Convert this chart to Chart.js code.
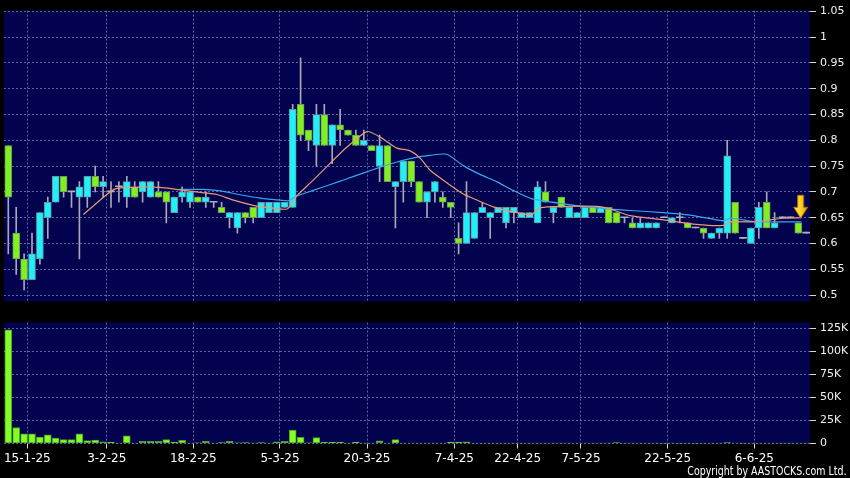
<!DOCTYPE html>
<html><head><meta charset="utf-8">
<script src="https://cdn.jsdelivr.net/npm/chart.js@4.4.1/dist/chart.umd.min.js"></script>
<style>
html,body{margin:0;padding:0;background:#000;width:850px;height:478px;overflow:hidden;}
#wrapP{position:absolute;left:0;top:0;width:850px;height:312px;}
#wrapV{position:absolute;left:0;top:312px;width:850px;height:166px;}
#copy{position:absolute;right:4px;top:463px;color:#fff;font:12.5px "Liberation Sans Narrow","DejaVu Sans Condensed",sans-serif;white-space:nowrap;transform:scaleX(0.84);transform-origin:100% 50%;}
</style></head><body>
<div id="wrapP"><canvas id="price"></canvas></div>
<div id="wrapV"><canvas id="vol"></canvas></div>
<div id="copy">Copyright by AASTOCKS.com Ltd.</div>
<script>
// ---- data ----
const openP = [0.79,0.62,0.57,0.53,0.57,0.65,0.68,0.73,0.70,0.69,
 0.69,0.73,0.71,0.70,0.71,0.69,0.71,0.70,0.69,0.70,
 0.70,0.66,0.69,0.68,0.69,0.68,0.68,0.67,0.65,0.63,
 0.66,0.67,0.65,0.66,0.66,0.67,0.67,0.87,0.82,0.79,
 0.85,0.79,0.83,0.82,0.81,0.79,0.79,0.75,0.79,0.71,
 0.72,0.76,0.72,0.68,0.70,0.69,0.68,0.61,0.60,0.61,
 0.66,0.65,0.66,0.64,0.66,0.65,0.65,0.64,0.70,0.66,
 0.69,0.65,0.65,0.65,0.67,0.66,0.67,0.66,0.65,0.64,
 0.63,0.63,0.63,0.65,0.64,0.65,0.64,0.63,0.63,0.61,
 0.62,0.62,0.68,0.61,0.60,0.63,0.68,0.63,0.65,0.65,
 0.64,0.62];
const highP = [0.79,0.67,0.58,0.62,0.66,0.69,0.73,0.73,0.70,0.72,
 0.73,0.75,0.73,0.72,0.72,0.73,0.72,0.72,0.72,0.72,
 0.70,0.69,0.71,0.70,0.69,0.70,0.68,0.68,0.66,0.66,
 0.66,0.67,0.68,0.68,0.68,0.68,0.87,0.96,0.82,0.87,
 0.87,0.83,0.86,0.82,0.82,0.82,0.79,0.81,0.79,0.72,
 0.76,0.76,0.72,0.70,0.72,0.70,0.68,0.64,0.72,0.66,
 0.68,0.66,0.67,0.67,0.67,0.66,0.66,0.72,0.72,0.67,
 0.69,0.67,0.66,0.67,0.67,0.67,0.67,0.66,0.65,0.65,
 0.65,0.64,0.64,0.65,0.65,0.66,0.64,0.63,0.63,0.62,
 0.63,0.80,0.68,0.61,0.63,0.68,0.70,0.66,0.65,0.65,
 0.64,0.62];
const lowP = [0.58,0.54,0.51,0.53,0.56,0.61,0.68,0.69,0.67,0.57,
 0.67,0.70,0.69,0.67,0.68,0.67,0.69,0.68,0.69,0.69,
 0.64,0.66,0.68,0.67,0.68,0.67,0.67,0.66,0.63,0.62,
 0.64,0.64,0.65,0.66,0.66,0.67,0.67,0.80,0.78,0.75,
 0.79,0.755,0.79,0.81,0.79,0.79,0.78,0.72,0.72,0.63,
 0.68,0.71,0.68,0.65,0.68,0.67,0.65,0.58,0.60,0.61,
 0.66,0.61,0.66,0.63,0.64,0.65,0.65,0.64,0.68,0.64,
 0.67,0.65,0.65,0.65,0.66,0.66,0.64,0.64,0.64,0.63,
 0.63,0.63,0.63,0.65,0.64,0.64,0.63,0.63,0.61,0.61,
 0.61,0.61,0.62,0.61,0.60,0.61,0.63,0.63,0.65,0.65,
 0.62,0.62];
const closeP = [0.69,0.57,0.53,0.58,0.66,0.68,0.73,0.70,0.70,0.71,
 0.73,0.71,0.72,0.70,0.71,0.72,0.69,0.72,0.72,0.69,
 0.68,0.69,0.70,0.70,0.68,0.69,0.68,0.66,0.66,0.66,
 0.65,0.65,0.68,0.68,0.68,0.68,0.86,0.81,0.80,0.85,
 0.79,0.83,0.82,0.81,0.79,0.80,0.78,0.79,0.72,0.72,
 0.76,0.72,0.68,0.70,0.72,0.68,0.67,0.60,0.66,0.66,
 0.67,0.66,0.67,0.67,0.67,0.66,0.66,0.71,0.68,0.67,
 0.67,0.67,0.66,0.67,0.66,0.67,0.64,0.64,0.65,0.63,
 0.64,0.64,0.64,0.65,0.65,0.65,0.63,0.63,0.62,0.62,
 0.63,0.77,0.62,0.61,0.63,0.67,0.63,0.64,0.65,0.65,
 0.62,0.62];
const volumeK = [123.3,17.4,10.4,10.4,6.9,9.4,5.9,4.2,4.2,10.4,
 3.1,3.8,1.7,1.4,0.3,8.3,0.3,2.4,2.4,2.4,
 4.2,1.4,3.5,0.3,0.7,2.4,0.3,1.0,2.4,0.7,
 1.0,0.3,1.0,0.3,1.7,2.4,14.6,6.6,0.7,6.3,
 1.4,1.4,1.4,0.3,1.4,0.3,0.3,2.8,0.3,4.2,
 0.3,0.5,0.3,0.3,0.3,0.5,1.5,1.5,1.7,0.3,
 0.3,0.3,0.3,0.3,0.3,0.3,0.4,0.4,0.3,0.3,
 0.3,0.3,0.5,0.5,0.3,0.3,0.3,1.0,0.3,0.3,
 0.3,0.3,0.3,0.2,0.3,0.2,0.3,0.2,0.3,0.3,
 0.3,1.0,0.5,0.2,0.3,0.3,0.4,0.3,0.2,0.2,
 0.3,0.2];
// moving averages (candle index, price)
const ma10Idx = [9.5,11.6,13.5,15.8,19.2,21.7,24.3,26.4,28.5,31,32.7,35.3,36.5,38.4,40.7,42.8,45.4,47.1,49.2,50.8,52.1,53.4,55.5,57.6,59.5,61.4,63.9,66.2,67.3,70.3,74.5,76.2,78.7,82.9,87.1,90.5,91.4,94.7,96.4,98.1,100.4];
const ma10Val = [0.656,0.684,0.706,0.709,0.709,0.704,0.699,0.695,0.684,0.674,0.670,0.667,0.692,0.720,0.755,0.786,0.817,0.806,0.785,0.780,0.766,0.742,0.718,0.696,0.683,0.671,0.661,0.656,0.669,0.672,0.672,0.667,0.654,0.646,0.637,0.635,0.642,0.642,0.646,0.649,0.650];
const ma20Idx = [21.6,24.5,26.8,29.5,31.9,34.4,35.5,36.5,38.6,40.7,42.8,45,47.1,49.2,51.3,53.4,55.5,57.6,59.7,61.8,63.9,66.2,70.3,74.5,78.7,82.9,86.3,90.5,91.4,94.7,98.1,100.4];
const ma20Val = [0.705,0.705,0.702,0.694,0.688,0.684,0.683,0.692,0.703,0.714,0.725,0.737,0.748,0.758,0.766,0.771,0.773,0.751,0.734,0.720,0.703,0.687,0.677,0.669,0.664,0.660,0.655,0.644,0.649,0.642,0.642,0.642];
const dateLabels = ['15-1-25','3-2-25','18-2-25','5-3-25','20-3-25','7-4-25','22-4-25','7-5-25','22-5-25','6-6-25'];
const dateTickIdx = [2.41,12.46,23.42,34.39,45.41,56.46,64.48,72.49,83.47,94.43];
const priceTicks = [0.5,0.55,0.6,0.65,0.7,0.75,0.8,0.85,0.9,0.95,1,1.05];
const priceTickLabels = ['0.5','0.55','0.6','0.65','0.7','0.75','0.8','0.85','0.9','0.95','1','1.05'];
const volTicks = [0,25,50,75,100,125];
const volTickLabels = ['0','25K','50K','75K','100K','125K'];
const arrowIdx = 100.3, arrowTip = 0.649;

// ---- styles ----
const NAVY = '#02024f';
const GRID = 'rgba(120,120,185,0.8)';
const UP = '#22f0f8', DOWN = '#80f020', DOJI = '#b0b0b8';
const WICK = '#a8a8b4';
const X_MIN = -0.544, X_MAX = 101.48;
const P_MIN = 0.4878, P_MAX = 1.0515;
const V_MIN = 0, V_MAX = 131.25;

const idx = closeP.map((_, i) => i);

const bgPlugin = {
  id: 'bg',
  beforeDraw(chart) {
    const { ctx, chartArea: a } = chart;
    ctx.save();
    ctx.fillStyle = NAVY;
    ctx.fillRect(a.left, a.top, a.right - a.left, a.bottom - a.top);
    ctx.restore();
  }
};
const arrowPlugin = {
  id: 'arrow',
  afterDatasetsDraw(chart) {
    const { ctx } = chart;
    const x = chart.scales.x.getPixelForValue(arrowIdx);
    const y = chart.scales.y.getPixelForValue(arrowTip);
    ctx.save();
    const g = ctx.createLinearGradient(x - 7, 0, x + 7, 0);
    g.addColorStop(0, '#ffe860'); g.addColorStop(0.5, '#ffd020'); g.addColorStop(1, '#e09a00');
    ctx.fillStyle = g;
    ctx.strokeStyle = '#b07000';
    ctx.lineWidth = 1;
    ctx.beginPath();
    ctx.moveTo(x - 3, y - 23);
    ctx.lineTo(x + 3, y - 23);
    ctx.lineTo(x + 3, y - 11);
    ctx.lineTo(x + 7, y - 11);
    ctx.lineTo(x, y);
    ctx.lineTo(x - 7, y - 11);
    ctx.lineTo(x - 3, y - 11);
    ctx.closePath();
    ctx.fill();
    ctx.stroke();
    ctx.restore();
  }
};

const yAxisCommon = {
  position: 'right',
  afterFit: s => { s.width = 40; },
  border: { display: false, dash: [2, 2] },
  grid: { color: GRID, tickLength: 6, tickColor: '#d8d8d8', tickBorderDash: [1, 0] },
  ticks: { color: '#f0f0f0', padding: 4, font: { family: 'DejaVu Sans', size: 11 } }
};

new Chart(document.getElementById('price'), {
  type: 'bar',
  data: {
    datasets: [
      {
        label: 'wick', order: 3, grouped: false, barThickness: 1,
        data: idx.map(i => ({ x: i, y: [lowP[i], highP[i]] })),
        backgroundColor: WICK, borderWidth: 0, minBarLength: 1
      },
      {
        label: 'body', order: 2, grouped: false, barThickness: 7,
        data: idx.map(i => ({ x: i, y: [Math.min(openP[i], closeP[i]), Math.max(openP[i], closeP[i])] })),
        backgroundColor: c => { const i = c.dataIndex; return closeP[i] > openP[i] ? UP : closeP[i] < openP[i] ? DOWN : DOJI; },
        borderColor: c => { const i = c.dataIndex; return closeP[i] > openP[i] ? '#5f98a6' : '#6f9a58'; },
        borderWidth: c => { const i = c.dataIndex; return closeP[i] === openP[i] ? 0 : 1; },
        borderSkipped: false, minBarLength: 1
      },
      {
        type: 'line', label: 'MA10', order: 1,
        data: ma10Idx.map((v, k) => ({ x: v, y: ma10Val[k] })),
        borderColor: '#e89a78', borderWidth: 1.2, pointRadius: 0, tension: 0.2, fill: false
      },
      {
        type: 'line', label: 'MA20', order: 1,
        data: ma20Idx.map((v, k) => ({ x: v, y: ma20Val[k] })),
        borderColor: '#3aa6ee', borderWidth: 1.2, pointRadius: 0, tension: 0.2, fill: false
      }
    ]
  },
  options: {
    responsive: true, maintainAspectRatio: false, animation: false,
    layout: { padding: { top: 5, left: 4, right: 0, bottom: 6 } },
    plugins: { legend: { display: false }, tooltip: { enabled: false } },
    scales: {
      x: {
        type: 'linear', min: X_MIN, max: X_MAX, offset: false,
        afterBuildTicks: s => { s.ticks = dateTickIdx.map(v => ({ value: v })); },
        afterFit: s => { s.height = 0; },
        ticks: { display: false },
        border: { display: false, dash: [2, 2] },
        grid: { color: GRID, drawTicks: false, offset: false }
      },
      y: Object.assign({}, yAxisCommon, {
        min: P_MIN, max: P_MAX,
        afterBuildTicks: s => { s.ticks = priceTicks.map(v => ({ value: v })); },
        ticks: Object.assign({}, yAxisCommon.ticks, { callback: (v, i) => priceTickLabels[i] })
      })
    }
  },
  plugins: [bgPlugin, arrowPlugin]
});

new Chart(document.getElementById('vol'), {
  type: 'bar',
  data: {
    datasets: [{
      label: 'Volume', grouped: false, barThickness: 7,
      data: idx.map(i => ({ x: i, y: volumeK[i] })),
      backgroundColor: '#84ff24', borderColor: '#4c9c1c', borderWidth: 1, borderSkipped: false
    }]
  },
  options: {
    responsive: true, maintainAspectRatio: false, animation: false,
    layout: { padding: { top: 5.3, left: 4, right: 0, bottom: 6.5 } },
    plugins: { legend: { display: false }, tooltip: { enabled: false } },
    scales: {
      x: {
        type: 'linear', min: X_MIN, max: X_MAX, offset: false,
        afterBuildTicks: s => { s.ticks = dateTickIdx.map(v => ({ value: v })); },
        afterFit: s => { s.height = 28; },
        ticks: { color: '#ffffff', padding: 3, maxRotation: 0, autoSkip: false,
          font: { family: 'DejaVu Sans', size: 12 }, callback: (v, i) => dateLabels[i] },
        border: { display: false, dash: [2, 2] },
        grid: { color: GRID, tickLength: 5, tickColor: '#d8d8d8', tickBorderDash: [1, 0], offset: false }
      },
      y: Object.assign({}, yAxisCommon, {
        min: V_MIN, max: V_MAX,
        afterBuildTicks: s => { s.ticks = volTicks.map(v => ({ value: v })); },
        ticks: Object.assign({}, yAxisCommon.ticks, { callback: (v, i) => volTickLabels[i] })
      })
    }
  },
  plugins: [bgPlugin]
});
</script>
</body></html>
